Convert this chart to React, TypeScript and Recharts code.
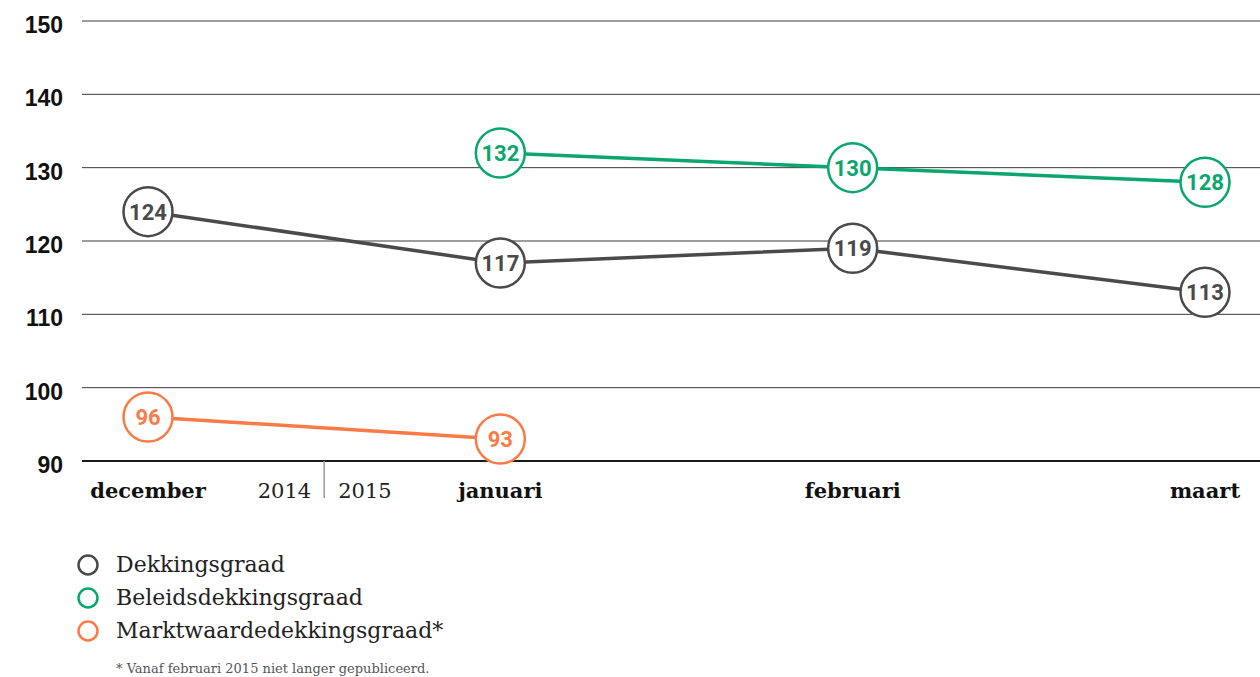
import { LineChart, Line, XAxis, YAxis, CartesianGrid, Legend } from "recharts";

const months = ["december", "januari", "februari", "maart"];
const seriesNames = ["Dekkingsgraad", "Beleidsdekkingsgraad", "Marktwaardedekkingsgraad*"];
const dekkingsgraad = [124, 117, 119, 113];
const beleidsdekkingsgraad = [null, 132, 130, 128];
const marktwaardedekkingsgraad = [96, 93, null, null];
const yTicks = [90, 100, 110, 120, 130, 140, 150];
const yearLabels = ["2014", "2015"];
const footnote = "* Vanaf februari 2015 niet langer gepubliceerd.";

const GREY = "#4a4a4a";
const GREEN = "#0aa66e";
const ORANGE = "#fb7a45";

const data = months.map((m, i) => ({
  idx: i,
  month: m,
  dekking: dekkingsgraad[i],
  beleid: beleidsdekkingsgraad[i],
  markt: marktwaardedekkingsgraad[i],
}));

// circle with the value inside
function makeDot(color: string) {
  // eslint-disable-next-line @typescript-eslint/no-explicit-any
  return (props: any) => {
    const { cx, cy, value, index } = props;
    if (cx == null || cy == null || value == null) return <g key={`d-${color}-${index}`} />;
    return (
      <g key={`d-${color}-${index}`}>
        <circle cx={cx} cy={cy} r={24.5} fill="#fff" stroke={color} strokeWidth={2.5} />
        <text
          x={cx}
          y={cy + 8}
          textAnchor="middle"
          fill={color}
          fontFamily="Roboto, 'Liberation Sans', sans-serif"
          fontWeight={700}
          fontSize={22}
        >
          {value}
        </text>
      </g>
    );
  };
}

// month labels, plus the 2014 | 2015 split at 0.5
// eslint-disable-next-line @typescript-eslint/no-explicit-any
function MonthTick({ x, y, payload }: any) {
  const v = payload.value;
  if (v === 0.5) {
    return (
      <g>
        <line x1={x} x2={x} y1={y} y2={y + 37} stroke="#999" strokeWidth={1.5} />
        <text x={x - 13} y={y + 37} textAnchor="end" fill="#222"
          fontFamily="'DejaVu Serif', serif" fontSize={21}>{yearLabels[0]}</text>
        <text x={x + 14} y={y + 37} textAnchor="start" fill="#222"
          fontFamily="'DejaVu Serif', serif" fontSize={21}>{yearLabels[1]}</text>
      </g>
    );
  }
  return (
    <text x={x} y={y + 37} textAnchor="middle" fill="#111"
      fontFamily="'DejaVu Serif', serif" fontWeight={700} fontSize={21}>
      {months[v]}
    </text>
  );
}

// eslint-disable-next-line @typescript-eslint/no-explicit-any
function LegendContent({ payload }: any) {
  const items = [...(payload || [])].sort(
    // eslint-disable-next-line @typescript-eslint/no-explicit-any
    (a: any, b: any) => seriesNames.indexOf(a.value) - seriesNames.indexOf(b.value)
  );
  return (
    <div style={{ fontFamily: "'DejaVu Serif', serif", color: "#222" }}>
      {/* eslint-disable-next-line @typescript-eslint/no-explicit-any */}
      {items.map((entry: any) => (
        <div key={entry.value} style={{ display: "flex", alignItems: "center", height: 33 }}>
          <svg width={24} height={24} style={{ marginRight: 16 }}>
            <circle cx={12} cy={12} r={9.5} fill="none" stroke={entry.color} strokeWidth={2.5} />
          </svg>
          <span style={{ fontSize: 22 }}>{entry.value}</span>
        </div>
      ))}
      <div style={{ marginTop: 14, marginLeft: 40, fontSize: 13, color: "#555" }}>{footnote}</div>
    </div>
  );
}

export default function App() {
  return (
    <div style={{ position: "absolute", left: 0, top: 0, width: 1260, height: 677, background: "#fff" }}>
      <LineChart width={1260} height={677} data={data} margin={{ top: 21, right: 0, left: 0, bottom: 176 }}>
        <CartesianGrid vertical={false} stroke="#3a3a3a" strokeWidth={1} />
        <XAxis
          dataKey="idx"
          type="number"
          domain={[0, 3]}
          ticks={[0, 0.5, 1, 2, 3]}
          padding={{ left: 66, right: 55 }}
          height={40}
          tickSize={0}
          tickMargin={0}
          tickLine={false}
          axisLine={{ stroke: "#1a1a1a", strokeWidth: 2 }}
          tick={<MonthTick />}
          interval={0}
        />
        <YAxis
          type="number"
          domain={[90, 150]}
          ticks={yTicks}
          width={82}
          tickSize={0}
          tickMargin={19}
          tickLine={false}
          axisLine={false}
          tick={{ fill: "#111", fontSize: 23, fontWeight: 700, fontFamily: "'Liberation Sans', Arial, sans-serif", dy: 4 }}
        />
        <Legend
          layout="horizontal"
          verticalAlign="middle"
          align="center"
          content={<LegendContent />}
          wrapperStyle={{ top: 548, left: 76, width: 600, height: 129 }}
        />
        <Line
          name={seriesNames[0]}
          dataKey="dekking"
          stroke={GREY}
          strokeWidth={3.5}
          dot={makeDot(GREY)}
          activeDot={false}
          isAnimationActive={false}
        />
        <Line
          name={seriesNames[1]}
          dataKey="beleid"
          stroke={GREEN}
          strokeWidth={3.5}
          dot={makeDot(GREEN)}
          activeDot={false}
          isAnimationActive={false}
        />
        <Line
          name={seriesNames[2]}
          dataKey="markt"
          stroke={ORANGE}
          strokeWidth={3.5}
          dot={makeDot(ORANGE)}
          activeDot={false}
          isAnimationActive={false}
        />
      </LineChart>
    </div>
  );
}
